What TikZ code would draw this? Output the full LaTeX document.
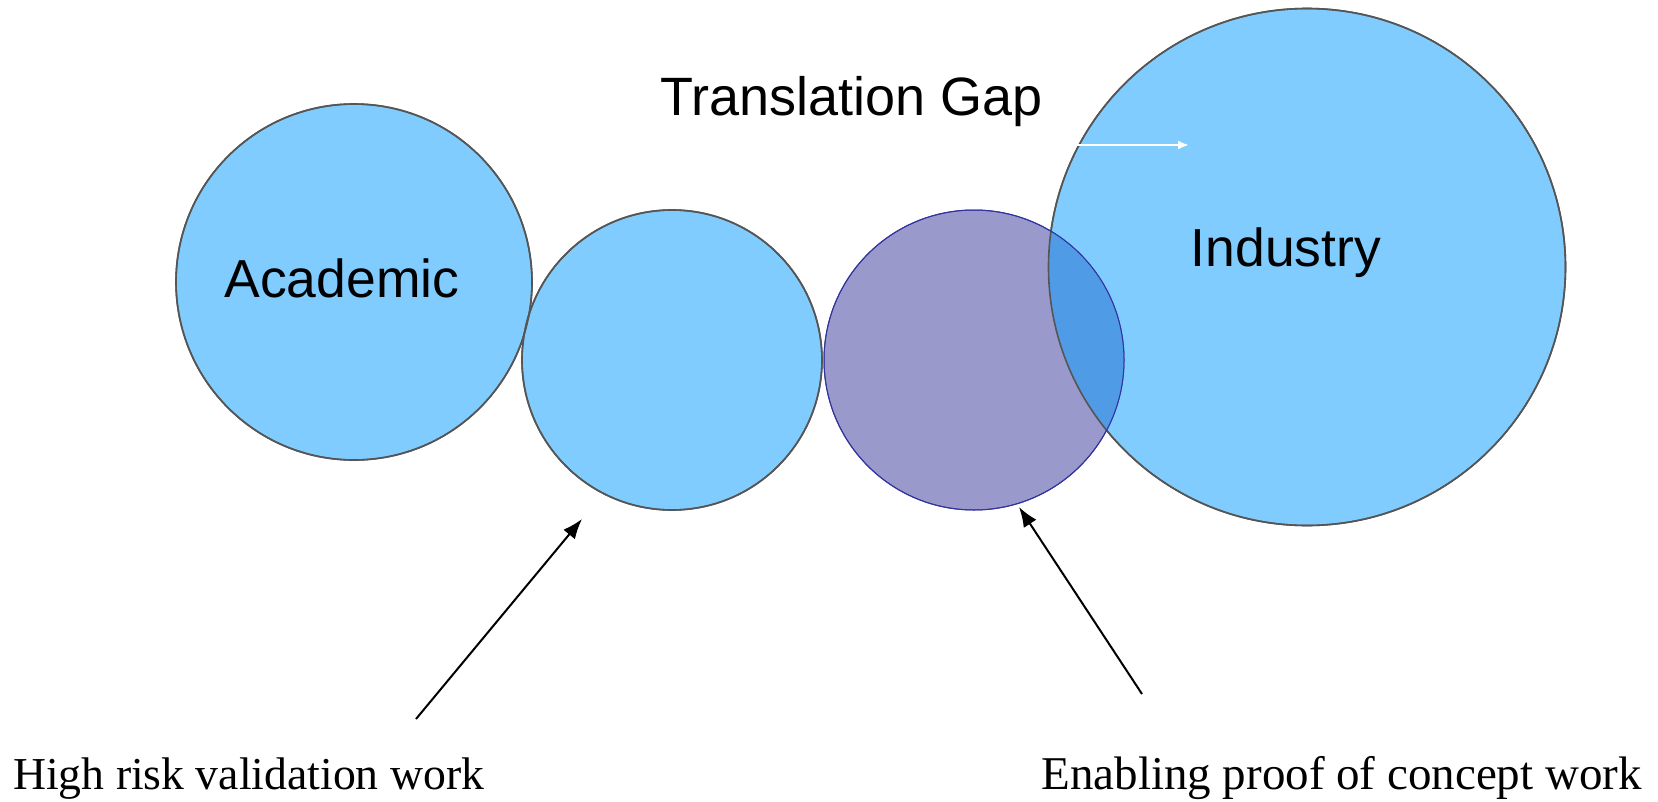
\documentclass[tikz,border=0pt]{standalone}
\usepackage{fontspec}
\setmainfont{Liberation Serif}
\newfontfamily\arialf{Liberation Sans}
\usetikzlibrary{arrows.meta}
\definecolor{blobblue}{HTML}{80CCFF}
\definecolor{blobpurple}{HTML}{9999CC}
\definecolor{lensblue}{HTML}{509BE6}
\definecolor{rimgray}{HTML}{555555}
\definecolor{rimpurple}{HTML}{3333A0}
\tikzset{
  bluecirc/.style={circle, inner sep=0pt, fill=blobblue, draw=rimgray, line width=1.6pt},
  purpcirc/.style={circle, inner sep=0pt, fill=blobpurple, draw=rimpurple, line width=1pt},
  sanslbl/.style={inner sep=0pt, font=\arialf\fontsize{53.5}{60}\selectfont},
  seriflbl/.style={inner sep=0pt, font=\fontsize{45.7}{54}\selectfont},
  seriflbltwo/.style={inner sep=0pt, font=\fontsize{47}{54}\selectfont},
  pointer/.style={line width=2pt, -{Latex[length=20pt,width=15pt]}},
  whitepointer/.style={white, line width=2pt, -{Latex[length=11pt,width=9pt]}}
}
\begin{document}
\begin{tikzpicture}[x=1pt,y=-1pt]
\useasboundingbox (0,0) rectangle (1658,801);
\fill[white] (0,0) rectangle (1658,801);

% circles
\node[bluecirc, minimum size=356pt] (acad) at (354,282) {};
\node[bluecirc, minimum size=300pt] (valid) at (672,360) {};
\node[bluecirc, minimum size=517pt] (ind) at (1307,267) {};
\node[purpcirc, minimum size=300pt] (poc) at (974,360) {};

% overlap lenses
\begin{scope}
  \clip (354,282) circle[radius=178pt];
  \fill[lensblue] (672,360) circle[radius=150pt];
\end{scope}
\begin{scope}
  \clip (974,360) circle[radius=150pt];
  \fill[lensblue] (1307,267) circle[radius=258.5pt];
\end{scope}

% outlines on top
\draw[rimgray, line width=1.6pt] (354,282) circle[radius=178pt];
\draw[rimgray, line width=1.6pt] (672,360) circle[radius=150pt];
\draw[rimgray, line width=1.6pt] (1307,267) circle[radius=258.5pt];
\draw[rimpurple, line width=1pt] (974,360) circle[radius=150pt];

% white arrow
\coordinate (w1) at (1062,145);
\coordinate (w2) at (1189,145);
\draw[whitepointer] (w1) -- (w2);

% labels
\node[sanslbl, anchor=base, font=\arialf\fontsize{54}{60}\selectfont] (gap) at (852,115) {Translation Gap};
\node[sanslbl, anchor=base] (acadl) at (342,297) {Academic};
\node[sanslbl, anchor=base] (indl) at (1286,266) {Industry};
\node[seriflbl, anchor=base west] (hr) at (13,789) {High risk validation work};
\node[seriflbltwo, anchor=base east] (ep) at (1642,789) {Enabling proof of concept work};

% pointers
\coordinate (a1s) at (416,719);
\coordinate (a1e) at (582,519);
\draw[pointer] (a1s) -- (a1e);
\coordinate (a2s) at (1142,694);
\coordinate (a2e) at (1019,507);
\draw[pointer] (a2s) -- (a2e);
\end{tikzpicture}
\end{document}
